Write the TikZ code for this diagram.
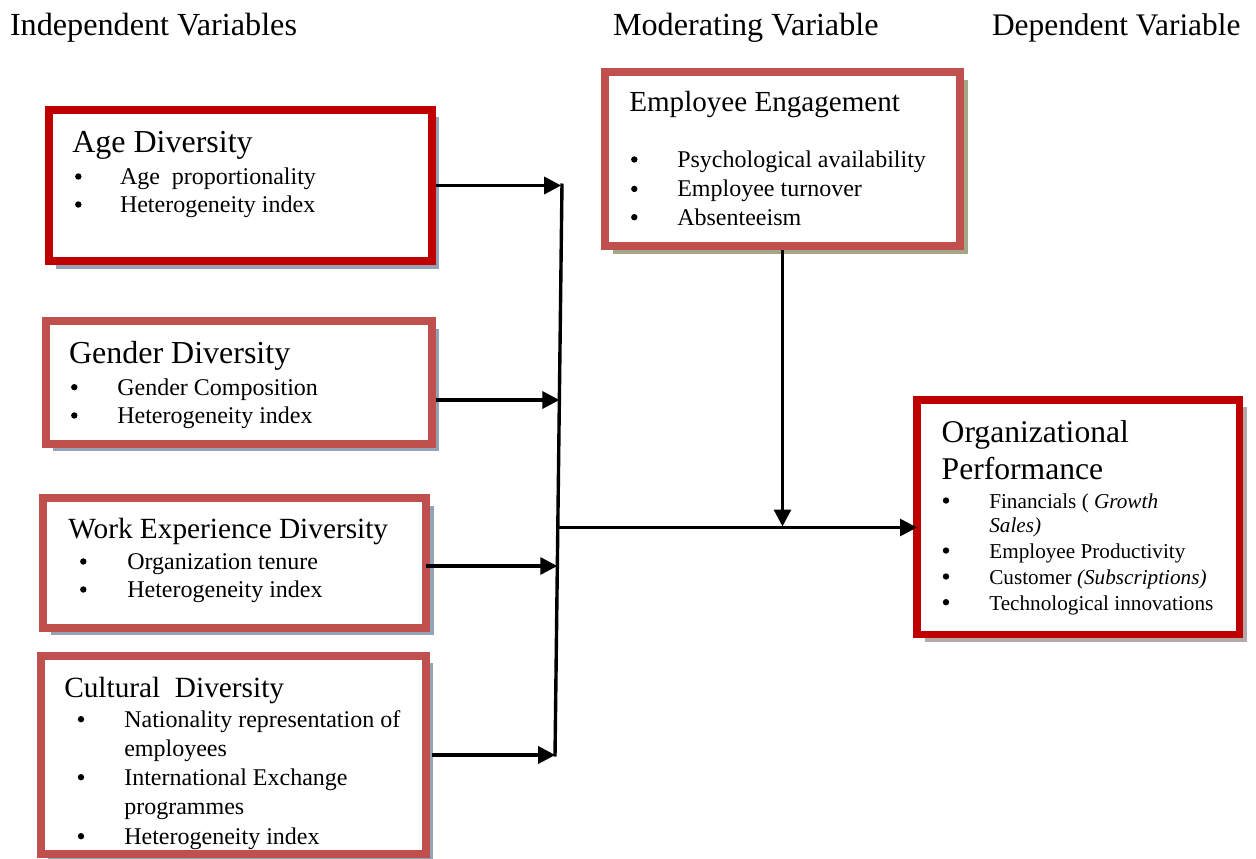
\documentclass[tikz,border=0pt]{standalone}
\usepackage{fontspec}
\setmainfont{Liberation Serif}
\usetikzlibrary{arrows.meta,shadows}

\definecolor{darkred}{HTML}{C00000}
\definecolor{softred}{HTML}{C0504D}
\definecolor{shblue}{HTML}{95A3B9}
\definecolor{sholive}{HTML}{A3A787}
\definecolor{shgray}{HTML}{B3A9A9}

\newcommand\hfont{\fontsize{32.2}{36}\selectfont}
\newcommand\tfont{\fontsize{29.3}{36}\selectfont}
\newcommand\tbigfont{\fontsize{32}{36}\selectfont}
\newcommand\bfont{\fontsize{24}{28}\selectfont}
\newcommand\sfont{\fontsize{21.2}{25}\selectfont}

% one bulleted line: name, font, bullet x, text x, baseline y, text
\newcommand\itemline[6]{%
  \node[bul] (#1-b) at (#3,#5-7.8) {};
  \node[txt,font=#2] (#1) at (#4,#5) {#6};}

\tikzset{
  box/.style={rectangle, draw=#1, line width=8pt, fill=white,
    inner sep=0pt, outer sep=0pt},
  shad/.style={drop shadow={shadow xshift=7.5pt, shadow yshift=-7.5pt,
    fill=#1, opacity=1}},
  txt/.style={anchor=base west, inner sep=0pt, outer sep=0pt},
  bul/.style={circle, fill=black, inner sep=0pt, outer sep=0pt,
    minimum size=6.4pt},
  arr/.style={line width=3.2pt, -{Triangle[length=17pt,width=17pt]}},
}

\begin{document}
\begin{tikzpicture}[x=1pt, y=-1pt]
\fill[white] (0,0) rectangle (1256,859);
\useasboundingbox (0,0) rectangle (1256,859);

% column headings
\node[txt,font=\hfont] (h1) at (10,36) {Independent Variables};
\node[txt,font=\hfont] (h2) at (613,36) {Moderating Variable};
\node[txt,font=\fontsize{31.4}{36}\selectfont] (h3) at (992,36) {Dependent Variable};

% frames
\node[box=darkred, shad=shblue, minimum width=383pt, minimum height=151.3pt]
  (age) at (240.2,185.35) {};
\node[box=softred, shad=shblue, minimum width=386.3pt, minimum height=122.5pt]
  (gen) at (238.65,382.25) {};
\node[box=softred, shad=shblue, minimum width=383pt, minimum height=129.7pt]
  (work) at (234.5,562.85) {};
\node[box=softred, shad=shblue, minimum width=385pt, minimum height=198.5pt]
  (cul) at (233,754.75) {};
\node[box=softred, shad=sholive, minimum width=355pt, minimum height=173.7pt]
  (ee) at (782.5,159.15) {};
\node[box=darkred, shad=shgray, line width=7.5pt, minimum width=322.5pt, minimum height=234.7pt]
  (org) at (1078.25,517.15) {};

% Age Diversity
\node[txt,font=\tbigfont] (ageT) at (72.3,152) {Age Diversity};
\itemline{age1}{\bfont}{78.3}{120}{184.3}{Age\ \ proportionality}
\itemline{age2}{\bfont}{78.3}{120}{212.3}{Heterogeneity index}

% Gender Diversity
\node[txt,font=\tbigfont] (genT) at (69,363) {Gender Diversity};
\itemline{gen1}{\bfont}{74.3}{117.3}{395}{Gender Composition}
\itemline{gen2}{\bfont}{74.3}{117.3}{423.3}{Heterogeneity index}

% Work Experience Diversity
\node[txt,font=\tfont] (workT) at (68.3,538.3) {Work Experience Diversity};
\itemline{work1}{\bfont}{83.3}{127.3}{569.3}{Organization tenure}
\itemline{work2}{\bfont}{83.3}{127.3}{597.3}{Heterogeneity index}

% Cultural Diversity
\node[txt,font=\tfont] (culT) at (64.3,697) {Cultural\ \ Diversity};
\itemline{cul1}{\bfont}{81}{124.3}{727}{Nationality representation of}
\node[txt,font=\bfont] (cul1b) at (124.3,756) {employees};
\itemline{cul2}{\bfont}{81}{124.3}{785}{International Exchange}
\node[txt,font=\bfont] (cul2b) at (124.3,814) {programmes};
\itemline{cul3}{\bfont}{81}{124.3}{844}{Heterogeneity index}
% frame drawn again so the last line is cut off at its inner edge
\draw[softred, line width=8pt] (cul.north west) rectangle (cul.south east);

% Employee Engagement
\node[txt,font=\fontsize{29.1}{36}\selectfont] (eeT) at (629.3,111.7) {Employee Engagement};
\itemline{ee1}{\bfont}{634.3}{677.3}{167.3}{Psychological availability}
\itemline{ee2}{\bfont}{634.3}{677.3}{196.7}{Employee turnover}
\itemline{ee3}{\bfont}{634.3}{677.3}{225}{Absenteeism}

% Organizational Performance
\node[txt,font=\fontsize{31.6}{36}\selectfont] (orgT1) at (941.7,442.3) {Organizational};
\node[txt,font=\fontsize{31.6}{36}\selectfont] (orgT2) at (941.7,479.3) {Performance};
\itemline{org1}{\sfont}{946}{989.3}{508.3}{Financials ( \textit{Growth}}
\node[txt,font=\sfont] (org1b) at (989.3,532.7) {\textit{Sales)}};
\itemline{org2}{\sfont}{946}{989.3}{558.3}{Employee Productivity}
\itemline{org3}{\sfont}{946}{989.3}{584.3}{Customer \textit{(Subscriptions)}}
\itemline{org4}{\sfont}{946}{989.3}{610}{Technological innovations}

% collecting bar
\coordinate (bt) at (562,183.5);
\coordinate (bb) at (555,756.5);
\coordinate (j1) at (561.2,185.5);
\coordinate (j2) at (559.4,400);
\coordinate (j3) at (557.3,566);
\coordinate (j4) at (555.2,755);
\coordinate (jm) at (557.8,527.5);
\draw[line width=3.4pt] (bt) -- (bb);

% connectors
\draw[arr, shorten <=4pt] (age.east |- j1) -- (j1);
\draw[arr, shorten <=4pt] (gen.east |- j2) -- (j2);
\draw[arr] (work.east |- j3) -- (j3);
\draw[arr, shorten <=6pt] (cul.east |- j4) -- (j4);
\draw[arr, line width=2.8pt] (jm) -- (org.west |- jm);
\draw[arr, shorten <=4pt, shorten >=1pt] (ee.south) -- (ee.south |- jm);
\end{tikzpicture}
\end{document}
